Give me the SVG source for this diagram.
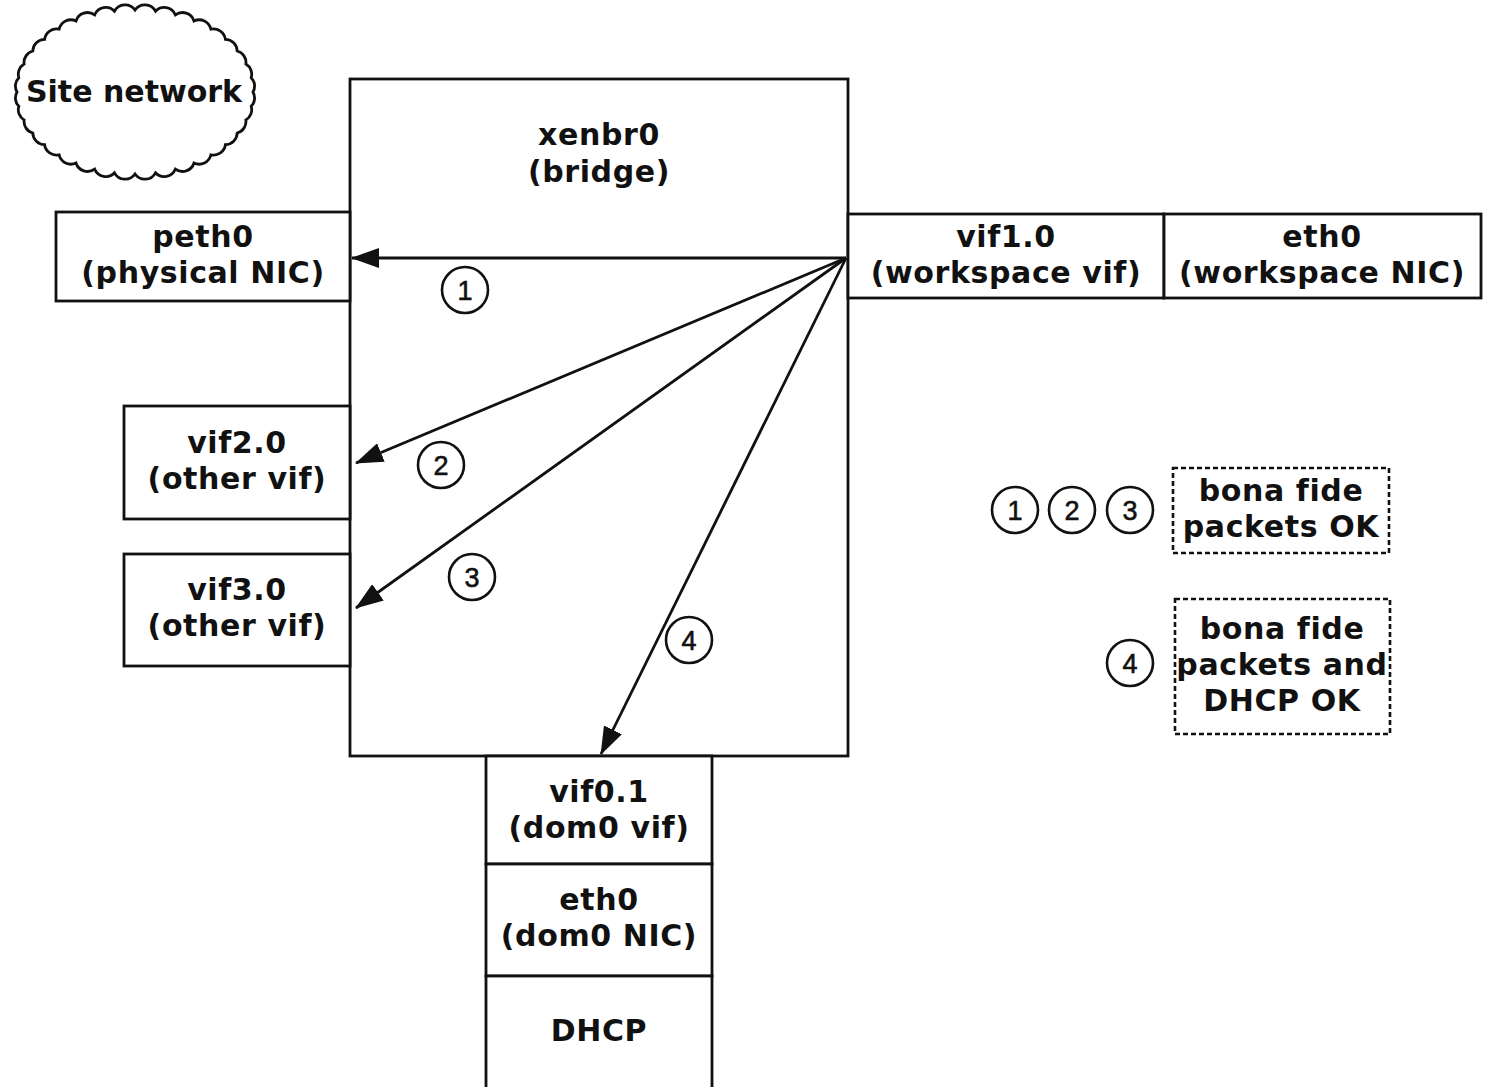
<svg xmlns="http://www.w3.org/2000/svg" width="1488" height="1087" viewBox="0 0 1488 1087">
  <style>
    .box { fill: #fff; stroke: #111; stroke-width: 2.8; }
    .dash { fill: #fff; stroke: #111; stroke-width: 2.6; stroke-dasharray: 5 3; }
    .lbl { font-family: "DejaVu Sans", Verdana, sans-serif; font-weight: bold; font-size: 30px; letter-spacing: 0.6px; fill: #111; text-anchor: middle; }
    .num { font-family: "Liberation Sans", Arial, sans-serif; font-size: 27px; fill: #111; stroke: #111; stroke-width: 0.6; text-anchor: middle; }
    .ring { fill: #fff; stroke: #111; stroke-width: 2.6; }
    .flow { stroke: #111; stroke-width: 2.8; fill: none; marker-end: url(#head); }
  </style>
  <defs>
    <marker id="head" viewBox="0 0 28 20" refX="27" refY="10" markerWidth="28" markerHeight="20" markerUnits="userSpaceOnUse" orient="auto">
      <path d="M0,0 L28,10 L0,20 z" fill="#111"/>
    </marker>
  </defs>
  <rect width="1488" height="1087" fill="#fff"/>

  <!-- cloud outline: small arcs strung round an ellipse -->
  <g id="site-network">
    <path class="box" d="M253,92 A12,12 0 0 1 251.2,106.3 A12,12 0 0 1 245.9,120 A12,12 0 0 1 237.2,133 A12,12 0 0 1 225.4,144.7 A12,12 0 0 1 210.9,154.8 A12,12 0 0 1 194,163 A12,12 0 0 1 175.4,169.1 A12,12 0 0 1 155.5,172.8 A12,12 0 0 1 135,174 A12,12 0 0 1 114.5,172.8 A12,12 0 0 1 94.6,169.1 A12,12 0 0 1 76,163 A12,12 0 0 1 59.1,154.8 A12,12 0 0 1 44.6,144.7 A12,12 0 0 1 32.8,133 A12,12 0 0 1 24.1,120 A12,12 0 0 1 18.8,106.3 A12,12 0 0 1 17,92 A12,12 0 0 1 18.8,77.7 A12,12 0 0 1 24.1,64 A12,12 0 0 1 32.8,51 A12,12 0 0 1 44.6,39.3 A12,12 0 0 1 59.1,29.2 A12,12 0 0 1 76,21 A12,12 0 0 1 94.6,14.9 A12,12 0 0 1 114.5,11.2 A12,12 0 0 1 135,10 A12,12 0 0 1 155.5,11.2 A12,12 0 0 1 175.4,14.9 A12,12 0 0 1 194,21 A12,12 0 0 1 210.9,29.2 A12,12 0 0 1 225.4,39.3 A12,12 0 0 1 237.2,51 A12,12 0 0 1 245.9,64 A12,12 0 0 1 251.2,77.7 A12,12 0 0 1 253,92 z"/>
    <text class="lbl" x="134" y="102" style="letter-spacing:0">Site network</text>
  </g>

  <g id="xenbr0">
    <rect class="box" x="350" y="79" width="498" height="677"/>
    <text class="lbl" x="599" y="145">xenbr0</text>
    <text class="lbl" x="599" y="182">(bridge)</text>
  </g>

  <g id="peth0">
    <rect class="box" x="56" y="212" width="294" height="89"/>
    <text class="lbl" x="203" y="247">peth0</text>
    <text class="lbl" x="203" y="283">(physical NIC)</text>
  </g>

  <g id="vif1.0">
    <rect class="box" x="848" y="214" width="316" height="84"/>
    <text class="lbl" x="1006" y="247">vif1.0</text>
    <text class="lbl" x="1006" y="283">(workspace vif)</text>
  </g>

  <g id="eth0-workspace">
    <rect class="box" x="1164" y="214" width="317" height="84"/>
    <text class="lbl" x="1322" y="247">eth0</text>
    <text class="lbl" x="1322" y="283">(workspace NIC)</text>
  </g>

  <g id="vif2.0">
    <rect class="box" x="124" y="406" width="226" height="113"/>
    <text class="lbl" x="237" y="453">vif2.0</text>
    <text class="lbl" x="237" y="489">(other vif)</text>
  </g>

  <g id="vif3.0">
    <rect class="box" x="124" y="554" width="226" height="112"/>
    <text class="lbl" x="237" y="600">vif3.0</text>
    <text class="lbl" x="237" y="636">(other vif)</text>
  </g>

  <g id="vif0.1">
    <rect class="box" x="486" y="756" width="226" height="108"/>
    <text class="lbl" x="599" y="802">vif0.1</text>
    <text class="lbl" x="599" y="838">(dom0 vif)</text>
  </g>

  <g id="eth0-dom0">
    <rect class="box" x="486" y="864" width="226" height="112"/>
    <text class="lbl" x="599" y="910">eth0</text>
    <text class="lbl" x="599" y="946">(dom0 NIC)</text>
  </g>

  <g id="dhcp">
    <rect class="box" x="486" y="976" width="226" height="120"/>
    <text class="lbl" x="599" y="1041">DHCP</text>
  </g>

  <!-- traffic leaving the workspace vif -->
  <g id="connectors">
    <line class="flow" x1="846" y1="258" x2="352" y2="258"/>
    <line class="flow" x1="846" y1="258" x2="356" y2="463"/>
    <line class="flow" x1="846" y1="258" x2="356" y2="608"/>
    <line class="flow" x1="846" y1="258" x2="601" y2="754"/>
  </g>

  <g id="flow-labels">
    <circle class="ring" cx="465" cy="290" r="23"/>
    <text class="num" x="465" y="300">1</text>
    <circle class="ring" cx="441" cy="465" r="23"/>
    <text class="num" x="441" y="475">2</text>
    <circle class="ring" cx="472" cy="577" r="23"/>
    <text class="num" x="472" y="587">3</text>
    <circle class="ring" cx="689" cy="640" r="23"/>
    <text class="num" x="689" y="650">4</text>
  </g>

  <!-- legend -->
  <g id="legend-123">
    <circle class="ring" cx="1015" cy="510" r="23"/>
    <text class="num" x="1015" y="520">1</text>
    <circle class="ring" cx="1072" cy="510" r="23"/>
    <text class="num" x="1072" y="520">2</text>
    <circle class="ring" cx="1130" cy="510" r="23"/>
    <text class="num" x="1130" y="520">3</text>
    <rect class="dash" x="1173" y="468" width="216" height="85"/>
    <text class="lbl" x="1281" y="501">bona fide</text>
    <text class="lbl" x="1281" y="537">packets OK</text>
  </g>

  <g id="legend-4">
    <circle class="ring" cx="1130" cy="663" r="23"/>
    <text class="num" x="1130" y="673">4</text>
    <rect class="dash" x="1175" y="599" width="215" height="135"/>
    <text class="lbl" x="1282" y="639">bona fide</text>
    <text class="lbl" x="1282" y="675">packets and</text>
    <text class="lbl" x="1282" y="711">DHCP OK</text>
  </g>
</svg>
